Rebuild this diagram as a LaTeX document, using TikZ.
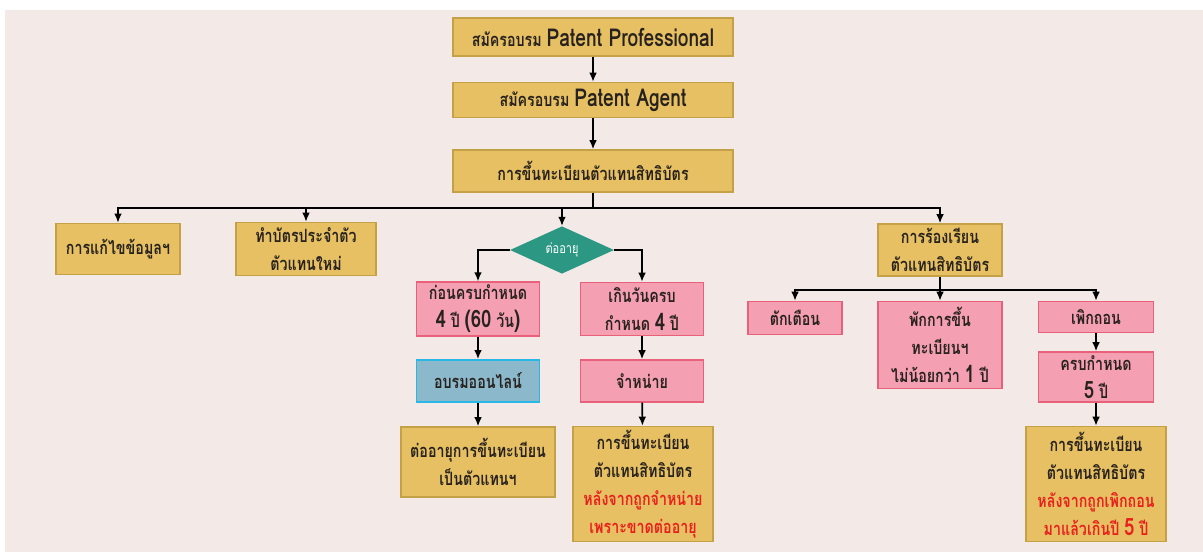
\documentclass[tikz,border=0pt]{standalone}
\usepackage{fontspec}
\usepackage{xcolor}
\usepackage{tikz}
\usetikzlibrary{shapes.geometric,arrows.meta}
\newfontfamily\thaifont[Script=Thai,FakeStretch=0.78]{Loma}
\definecolor{bgpaper}{RGB}{243,234,232}
\definecolor{goldfill}{RGB}{230,192,98}
\definecolor{golddraw}{RGB}{196,160,70}
\definecolor{pinkfill}{RGB}{245,160,178}
\definecolor{pinkdraw}{RGB}{232,96,122}
\definecolor{bluefill}{RGB}{140,184,204}
\definecolor{bluedraw}{RGB}{40,184,232}
\definecolor{tealfill}{RGB}{44,152,132}
\definecolor{inkdark}{RGB}{40,34,30}
\definecolor{warnred}{RGB}{232,32,30}
\newcommand{\bignum}[1]{{\fontsize{17}{20}\selectfont #1}}
\newcommand{\biglatin}[1]{{\fontsize{17.5}{20}\selectfont #1}}

\tikzset{
  goldbox/.style={draw=golddraw, fill=goldfill, line width=1pt, align=center, inner sep=2pt},
  pinkbox/.style={draw=pinkdraw, fill=pinkfill, line width=1pt, align=center, inner sep=2pt},
  bluebox/.style={draw=bluedraw, fill=bluefill, line width=1.2pt, align=center, inner sep=2pt},
  decision/.style={diamond, fill=tealfill, text=white, inner sep=0pt, font=\thaifont\fontsize{10}{12}\selectfont},
  arr/.style={-{Latex[length=6.5pt,width=5.5pt]}, line width=1.2pt, black}
}

\begin{document}
\begin{tikzpicture}[x=0.025cm, y=-0.025cm, font=\thaifont\bfseries\fontsize{13}{20}\selectfont, text=inkdark]
    % paper
    \fill[white] (0,0) rectangle (1203,552);
    \fill[bgpaper] (5,10) rectangle (1203,552);

    % top chain
    \node[goldbox, minimum width=7cm, minimum height=0.95cm] (pro) at (593,37) {สมัครอบรม \biglatin{Patent Professional}};
    \node[goldbox, minimum width=7cm, minimum height=0.875cm] (agent) at (593,100) {สมัครอบรม \biglatin{Patent Agent}};
    \node[goldbox, minimum width=7cm, minimum height=1.05cm] (regist) at (593,171) {การขึ้นทะเบียนตัวแทนสิทธิบัตร};

    % first row
    \node[goldbox, minimum width=3.1cm, minimum height=1.275cm] (edit) at (118,249) {การแก้ไขข้อมูลฯ};
    \node[goldbox, minimum width=3.5cm, minimum height=1.325cm] (card) at (306,249) {ทำบัตรประจำตัว\\ตัวแทนใหม่};
    \node[decision, minimum width=2.6cm, minimum height=1.1cm] (renew) at (562,250) {ต่ออายุ};
    \node[goldbox, minimum width=3.1cm, minimum height=1.3cm] (compl) at (940,250) {การร้องเรียน\\ตัวแทนสิทธิบัตร};

    % renewal branch
    \node[pinkbox, minimum width=3.075cm, minimum height=1.325cm] (before) at (478,309) {ก่อนครบกำหนด\\\bignum{4} ปี \bignum{(60} วัน\bignum{)}};
    \node[pinkbox, minimum width=3.075cm, minimum height=1.325cm] (after) at (642,309) {เกินวันครบ\\กำหนด \bignum{4} ปี};
    \node[bluebox, minimum width=3.075cm, minimum height=1.05cm] (online) at (478,381) {อบรมออนไลน์};
    \node[pinkbox, minimum width=3.075cm, minimum height=1.05cm] (dispose) at (642,381) {จำหน่าย};
    \node[goldbox, minimum width=3.85cm, minimum height=1.75cm] (extend) at (478,462) {ต่ออายุการขึ้นทะเบียน\\เป็นตัวแทนฯ};
    \node[goldbox, minimum width=3.5cm, minimum height=2.875cm] (reregA) at (643,484) {การขึ้นทะเบียน\\ตัวแทนสิทธิบัตร\\\textcolor{warnred}{หลังจากถูกจำหน่าย}\\\textcolor{warnred}{เพราะขาดต่ออายุ}};

    % complaint branch
    \node[pinkbox, minimum width=2.35cm, minimum height=0.825cm] (warn) at (795,318) {ตักเตือน};
    \node[pinkbox, minimum width=3.1cm, minimum height=2.175cm] (suspend) at (940,345) {พักการขึ้น\\ทะเบียนฯ\\ไม่น้อยกว่า \bignum{1} ปี};
    \node[pinkbox, minimum width=2.875cm, minimum height=0.775cm] (revoke) at (1096,317) {เพิกถอน};
    \node[pinkbox, minimum width=2.875cm, minimum height=1.25cm] (fiveyr) at (1096,377) {ครบกำหนด\\\bignum{5} ปี};
    \node[goldbox, minimum width=3.5cm, minimum height=2.875cm] (reregB) at (1096,484) {การขึ้นทะเบียน\\ตัวแทนสิทธิบัตร\\\textcolor{warnred}{หลังจากถูกเพิกถอน}\\\textcolor{warnred}{มาแล้วเกินปี \bignum{5} ปี}};

    % connectors
    \draw[arr] (pro) -- (agent);
    \draw[arr] (agent) -- (regist);
    \draw[line width=1.2pt] (regist.south) -- ++(0,15) coordinate (hub);
    \draw[arr] (hub) -| (edit.north);
    \draw[arr] (hub) -| (card.north);
    \draw[arr] (hub) -| (renew.north);
    \draw[arr] (hub) -| (compl.north);

    \draw[arr] (renew.west) -| (before.north);
    \draw[arr] (renew.east) -| (after.north);
    \draw[arr] (before) -- (online);
    \draw[arr] (online) -- (extend);
    \draw[arr] (after) -- (dispose);
    \draw[arr] (dispose) -- (reregA);

    \draw[line width=1.2pt] (compl.south) -- ++(0,13) coordinate (hubB);
    \draw[arr] (hubB) -| (warn.north);
    \draw[arr] (hubB) -- (suspend.north);
    \draw[arr] (hubB) -| (revoke.north);
    \draw[arr] (revoke) -- (fiveyr);
    \draw[arr] (fiveyr) -- (reregB);
\end{tikzpicture}
\end{document}
